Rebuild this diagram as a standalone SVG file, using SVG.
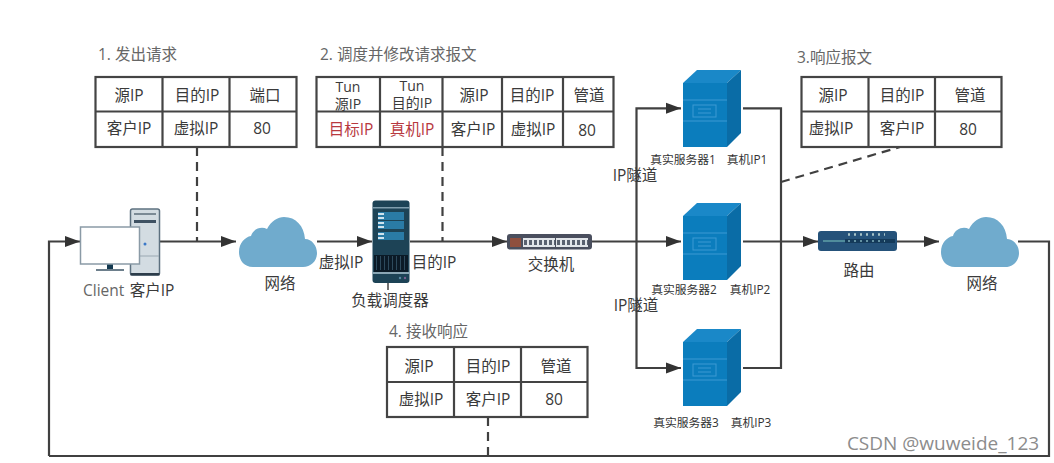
<svg xmlns="http://www.w3.org/2000/svg" width="1054" height="463" viewBox="0 0 1054 463">
<style>
text{font-family:"Open Sans","Noto Sans CJK SC",sans-serif;fill:#3a3a3a;font-size:15.500px;text-anchor:middle}
.h{fill:#666;text-anchor:start}
.r{fill:#b8393f}
.s{font-size:11.800px;fill:#333}
.n{font-size:14px}
.tb{fill:#fff;stroke:#444;stroke-width:2.2}
.tl{stroke:#444;stroke-width:2.2;fill:none}
.c{fill:none;stroke:#404040;stroke-width:2.2}
.d{fill:none;stroke:#404040;stroke-width:2.2;stroke-dasharray:9 6}
.cl{fill:#70abcd}
.f{fill:#0b7dbd}
.t{fill:#1a88c8}
.sd{fill:#0a6ca6}
.ln{fill:none;stroke:#3d9ad3;stroke-width:1}
.bar{fill:#2a7ba6}
.tick{fill:#cfe3ee}
</style>
<defs>
<marker id="a" markerUnits="userSpaceOnUse" markerWidth="16" markerHeight="12" refX="15" refY="6" orient="auto"><path d="M0 0.500L15 6L0 11.500z" fill="#333"/></marker>
<g id="cloud"><path class="cl" d="M14 50C4 50 0 42 0 35C0 26 6 20 12 19C14 12 22 9 28 12C32 4 39 0 45 0C57 0 65 9 66 22C73 22 78 29 78 36C78 44 72 50 64 50z"/></g>
<g id="srv">
<path class="t" d="M0 13L14 0H58L44 13z"/>
<path class="sd" d="M44 13L58 0V63L44 77z"/>
<rect class="f" x="0" y="13" width="44" height="64"/>
<path class="ln" d="M0 30H44M0 51H44"/>
<rect class="ln" x="10" y="35" width="23" height="12"/>
<path class="ln" d="M15 39H28M15 43H28"/>
</g>
</defs>
<rect width="1054" height="463" fill="#fff"/>
<g id="connectors">
<path class="c" d="M160 241.500H236" marker-end="url(#a)"/>
<path class="c" d="M49 456V241.500H80" marker-end="url(#a)"/>
<path class="c" d="M317 241.500H372" marker-end="url(#a)"/>
<path class="c" d="M410 241.500H507" marker-end="url(#a)"/>
<path class="c" d="M592 241.500H681" marker-end="url(#a)"/>
<path class="c" d="M636.500 241.500V108.300H681" marker-end="url(#a)"/>
<path class="c" d="M636.500 241.500V368H681" marker-end="url(#a)"/>
<path class="c" d="M743 108.300H781V368H743"/>
<path class="c" d="M743 241.500H818" marker-end="url(#a)"/>
<path class="c" d="M897 241.500H939" marker-end="url(#a)"/>
<path class="c" d="M1018 241.500H1049V456H49"/>
<path class="d" d="M197 147V241"/>
<path class="d" d="M442.500 147V241"/>
<path class="d" d="M781 182L900 147"/>
<path class="d" d="M488 417V456"/>
</g>
<g id="table1">
<text class="h" x="98" y="60">1. 发出请求</text>
<rect class="tb" x="95.500" y="77" width="201" height="70"/>
<path class="tl" d="M95.500 111.500H296.500M162.500 77V147M229.500 77V147"/>
<text x="129" y="101">源IP</text><text x="197" y="101">目的IP</text><text x="265" y="101">端口</text>
<text x="129" y="134">客户IP</text><text x="196" y="134">虚拟IP</text><text x="262" y="134">80</text>
</g>
<g id="table2">
<text class="h" x="320" y="60">2. 调度并修改请求报文</text>
<rect class="tb" x="316.500" y="77" width="297" height="70"/>
<path class="tl" d="M316.500 111.500H613.500M380 77V147M442.500 77V147M502 77V147M563 77V147"/>
<text class="n" x="348" y="92">Tun</text><text class="n" x="348" y="109">源IP</text>
<text class="n" x="412" y="91">Tun</text><text class="n" x="412" y="108">目的IP</text>
<text x="474" y="101">源IP</text><text x="532" y="101">目的IP</text><text x="589" y="101">管道</text>
<text class="r" x="351" y="135">目标IP</text><text class="r" x="412" y="135">真机IP</text>
<text x="473" y="135">客户IP</text><text x="533" y="135">虚拟IP</text><text x="587" y="136">80</text>
</g>
<g id="table3">
<text class="h" x="797" y="63">3.响应报文</text>
<rect class="tb" x="801.500" y="77" width="200" height="70"/>
<path class="tl" d="M801.500 111.500H1001.500M868.500 77V147M935 77V147"/>
<text x="833" y="101">源IP</text><text x="902" y="101">目的IP</text><text x="970" y="101">管道</text>
<text x="831" y="134">虚拟IP</text><text x="902" y="134">客户IP</text><text x="968" y="135">80</text>
</g>
<g id="table4">
<text class="h" x="389" y="337">4. 接收响应</text>
<rect class="tb" x="387" y="347" width="200.500" height="70"/>
<path class="tl" d="M387 382H587.500M454 347V417M521 347V417"/>
<text x="419" y="372">源IP</text><text x="488" y="372">目的IP</text><text x="556" y="372">管道</text>
<text x="421" y="405">虚拟IP</text><text x="488" y="405">客户IP</text><text x="554" y="405">80</text>
</g>
<g id="client">
<rect x="130.500" y="209" width="29" height="66" rx="2" fill="#d3dce2" stroke="#5d7180" stroke-width="1.500"/>
<rect x="134" y="213" width="22" height="2" fill="#7b8a95"/>
<rect x="134" y="220" width="22" height="3" fill="#3f5263"/>
<path d="M131 256H159" stroke="#9aa8b2" stroke-width="1"/>
<rect x="130.500" y="273" width="29" height="2.500" fill="#2c3c4a"/>
<circle cx="145" cy="244" r="1.500" fill="#3a78c8"/>
<rect x="107" y="264" width="6" height="6" fill="#12384f"/>
<rect x="96" y="269" width="28" height="2" fill="#6d7f8c"/>
<rect x="80.500" y="227" width="59" height="37" fill="#fff" stroke="#8a9aa6" stroke-width="1.500"/>
<text x="83" y="296" style="text-anchor:start;fill:#666">Client</text>
<text x="152" y="296">客户IP</text>
</g>
<g id="cloud1"><use href="#cloud" x="239" y="217"/><text x="280" y="289">网络</text></g>
<g id="lb">
<path d="M388 280V290" stroke="#444" stroke-width="1.500"/>
<rect x="372.500" y="200.500" width="37" height="82.500" rx="3" fill="#1d4356"/>
<rect x="372.500" y="207" width="37" height="1.500" fill="#7f9dad"/>
<rect class="bar" x="378" y="212" width="26" height="8"/><rect class="bar" x="378" y="221" width="26" height="8"/><rect class="bar" x="378" y="232" width="26" height="8"/>
<path class="tick" d="M378 213H384V215H378zM378 217H384V219H378zM378 222H384V224H378zM378 226H384V228H378zM378 233H384V235H378zM378 237H384V239H378z"/>
<rect x="374" y="255" width="34" height="17" fill="#0b1a26"/>
<path d="M376 263H406" stroke="#2d4a5c" stroke-width="14" stroke-dasharray="1 3"/>
<rect x="372.500" y="272" width="37" height="2" fill="#8aa6b4"/>
<circle cx="400" cy="278" r="1.200" fill="#5b8ba3"/><circle cx="405" cy="278" r="1.200" fill="#7b5f8f"/>
<text x="390" y="306">负载调度器</text>
<text x="341" y="268">虚拟IP</text>
<text x="434" y="268">目的IP</text>
</g>
<g id="switch">
<rect x="507" y="234" width="85" height="15.500" rx="3" fill="#4a4f5e"/>
<rect x="510" y="238" width="11" height="9" fill="#8f4f3e"/>
<rect x="523" y="238" width="32" height="9" fill="#e2e6ea"/><rect x="556" y="238" width="32" height="9" fill="#e2e6ea"/>
<path d="M524 242.500H555M557 242.500H588" stroke="#5a6270" stroke-width="5" stroke-dasharray="3 2"/>
<text x="551" y="270">交换机</text>
</g>
<g id="server1"><use href="#srv" x="683" y="70"/><text class="s" x="683" y="164">真实服务器1</text><text class="s" x="747" y="164">真机IP1</text></g>
<g id="server2"><use href="#srv" x="683" y="203"/><text class="s" x="684" y="294">真实服务器2</text><text class="s" x="750" y="294">真机IP2</text></g>
<g id="server3"><use href="#srv" x="683" y="329"/><text class="s" x="686" y="427">真实服务器3</text><text class="s" x="751" y="427">真机IP3</text></g>
<text x="635" y="181">IP隧道</text>
<text x="636" y="311">IP隧道</text>
<g id="router">
<rect x="818" y="231" width="79" height="20" rx="3" fill="#25527a"/>
<rect x="845" y="239" width="50" height="4" fill="#143a5a"/>
<path d="M823 241H845" stroke="#5fa0a8" stroke-width="1.500"/>
<path d="M848 234.500H885" stroke="#a8c4c8" stroke-width="2.500" stroke-dasharray="2 4"/>
<path d="M848 241H885" stroke="#7fb0bc" stroke-width="1.500" stroke-dasharray="2 4"/>
<text x="859" y="276">路由</text>
</g>
<g id="cloud2"><use href="#cloud" x="941" y="217"/><text x="982" y="289">网络</text></g>
<text x="943" y="450" style="font-size:19px;fill:#8c8c8c">CSDN @wuweide_123</text>
</svg>
